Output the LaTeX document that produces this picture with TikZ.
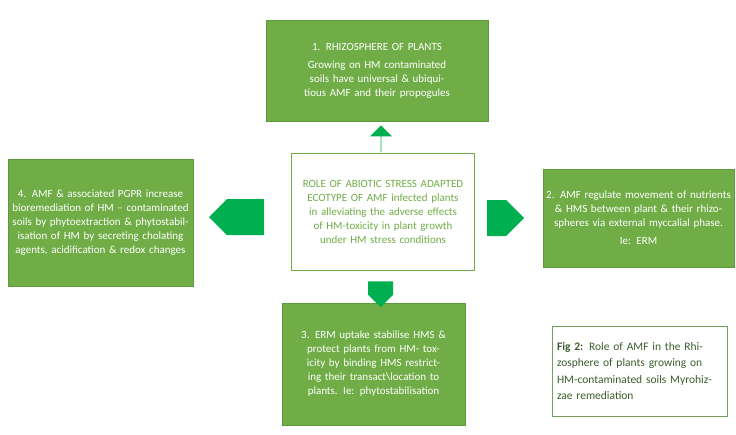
\documentclass[tikz,border=0pt]{standalone}
\usepackage{fontspec}
\setmainfont{Carlito}
\usetikzlibrary{shapes.arrows}
\definecolor{boxg}{HTML}{70AD47}
\definecolor{boxb}{HTML}{5B9A3A}
\definecolor{arrg}{HTML}{00B050}
\definecolor{figt}{HTML}{3B5E2B}
\begin{document}
\begin{tikzpicture}[x=1pt,y=-1pt,
  gbox/.style={draw=boxb,fill=boxg,line width=0.8pt,text=white,align=center,inner sep=2pt,font=\fontsize{11}{14}\selectfont},
  arr/.style={single arrow,fill=arrg,draw=none,single arrow head extend=5pt,inner sep=0pt,minimum height=27pt,minimum width=24pt}]
\useasboundingbox (0,0) rectangle (736,434);
\fill[white] (0,0) rectangle (736,434);
\node[gbox,minimum width=222pt,minimum height=101pt,text width=214pt] (top) at (377,70.5)
 {1. RHIZOSPHERE OF PLANTS\\[4pt]Growing on HM contaminated soils have universal \& ubiquitious AMF and their propogules};
\node[draw=boxg,line width=0.8pt,fill=white,text=boxg,align=center,minimum width=180pt,minimum height=117pt,text width=176pt,font=\fontsize{11}{14}\selectfont] (c) at (383,211.5)
 {ROLE OF ABIOTIC STRESS ADAPTED ECOTYPE OF AMF infected plants in alleviating the adverse effects of HM-toxicity in plant growth under HM stress conditions};
\node[gbox,minimum width=183pt,minimum height=127pt,text width=181pt] (l) at (100.5,222.5)
 {4. AMF \& associated PGPR increase bioremediation of HM -- contaminated soils by phytoextraction \& phytostabilisation of HM by secreting cholating agents, acidification \& redox changes};
\node[gbox,minimum width=191pt,minimum height=98pt,text width=185pt] (r) at (638.5,218)
 {2. AMF regulate movement of nutrients \& HMS between plant \& their rhizospheres via external myccalial phase.\\[4pt]Ie: ERM};
\node[gbox,minimum width=183pt,minimum height=122pt,text width=179pt] (b) at (373.5,364)
 {3. ERM uptake stabilise HMS \& protect plants from HM- toxicity by binding HMS restricting their transact\textbackslash location to plants. Ie: phytostabilisation};
\node[draw=boxg!70!gray,line width=0.8pt,fill=white,text=figt,align=left,minimum width=175pt,minimum height=90pt,text width=165pt,font=\fontsize{11.5}{16.5}\selectfont] (fig) at (639.5,371)
 {\textbf{Fig 2:} Role of AMF in the Rhizosphere of plants growing on HM-contaminated soils Myrohizzae remediation};
\node[arr,rotate=90,minimum height=27pt,minimum width=22pt,single arrow head extend=6pt] (au) at (381,139) {};
\node[arr,rotate=180,minimum height=55pt,minimum width=36pt,single arrow head extend=0pt] (al) at (245.5,217) {};
\node[arr,minimum height=37pt,minimum width=36pt,single arrow head extend=0pt] (ar) at (496.5,218) {};
\node[arr,rotate=-90,minimum height=26pt,minimum width=25pt,single arrow head extend=0pt] (ad) at (380.5,288) {};
\end{tikzpicture}
\end{document}
